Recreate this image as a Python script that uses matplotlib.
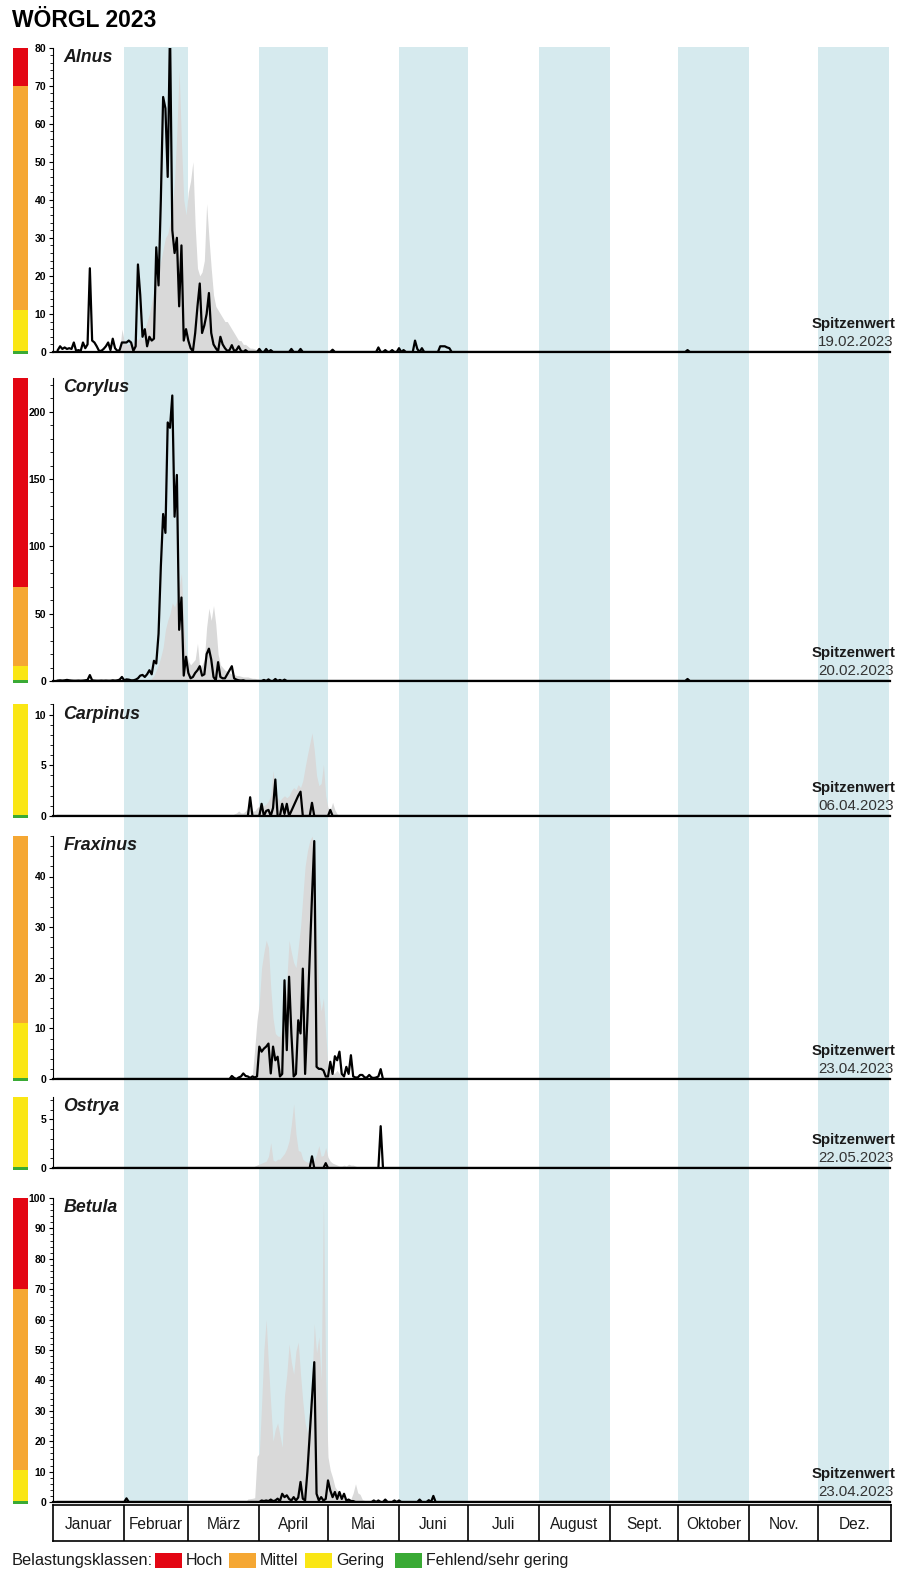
import numpy as np
import matplotlib
matplotlib.use("Agg")
import matplotlib.pyplot as plt
from matplotlib.patches import Rectangle

plt.rcParams['font.family'] = ['Liberation Sans', 'DejaVu Sans']

# ------------------------------------------------------------------ data
months = ['Januar', 'Februar', 'März', 'April', 'Mai', 'Juni', 'Juli',
          'August', 'Sept.', 'Oktober', 'Nov.', 'Dez.']
month_days = [31, 28, 31, 30, 31, 30, 31, 31, 30, 31, 30, 31]
shaded_months = [1, 3, 5, 7, 9, 11]

species = ['Alnus', 'Corylus', 'Carpinus', 'Fraxinus', 'Ostrya', 'Betula']
peak_dates = ['19.02.2023', '20.02.2023', '06.04.2023', '23.04.2023',
              '22.05.2023', '23.04.2023']
y_max = [80, 225, 11, 48, 7.3, 100]
major_step = [10, 50, 5, 10, 5, 10]
minor_step = [2, 10, 1, 2, 1, 2]

# Belastungsklassen (upper bound of each class, coloured bar at the left)
classes = {
    'Alnus':    [('gering', 11), ('mittel', 70), ('hoch', 80)],
    'Corylus':  [('gering', 11.5), ('mittel', 70), ('hoch', 225)],
    'Carpinus': [('gering', 11)],
    'Fraxinus': [('gering', 11), ('mittel', 48)],
    'Ostrya':   [('gering', 7.3)],
    'Betula':   [('gering', 10.5), ('mittel', 70), ('hoch', 100)],
}

# --- Alnus
alnus_avg_start = 29
alnus_avg = [6, 3, 2, 2, 3, 2, 4, 3, 4, 3, 6, 8, 10, 13, 16, 20, 22, 24, 27, 30,
             31, 34, 38, 45, 58, 74, 55, 40, 36, 42, 45, 50, 33, 22, 20, 21, 24, 39,
             30, 22, 15, 12, 11, 10, 9, 8, 8, 7, 6, 5, 4, 3, 3, 2, 2, 1.5, 1, 1,
             0.8, 0.5, 0.5, 0.3]
alnus_2023_start = 1
alnus_2023 = [0.5, 1.5, 0.8, 1.2, 0.8, 1.0, 0.8, 2.5, 0.3, 0.5,
              0.3, 2.5, 1.0, 2.0, 22.0, 3.0, 2.5, 1.5, 0.3, 0.3,
              0.8, 1.5, 2.5, 0.5, 3.5, 1.0, 0.3, 0.5, 2.5, 2.5,
              2.5, 3.0, 2.5, 0.3, 1.5, 23.0, 15.0, 4.0, 6.0, 1.5,
              4.0, 3.0, 3.5, 27.5, 17.5, 40.0, 67.0, 64.0, 46.0, 85.0,
              32.0, 26.0, 30.0, 12.0, 28.0, 3.0, 6.0, 3.0, 1.0, 0.2,
              5.0, 12.0, 18.0, 5.0, 7.0, 10.0, 15.5, 5.0, 2.0, 1.0,
              0.2, 4.0, 2.0, 1.0, 0.3, 0.5, 1.8, 0.3, 0.5, 1.5]
alnus_2023_late = {81: 0.3, 83: 0.5, 89: 0.8, 92: 0.8, 94: 0.5, 103: 0.8, 107: 0.8,
                   121: 0.6, 141: 1.2, 144: 0.5, 147: 0.5, 150: 1.0, 152: 0.5,
                   157: 3.0, 158: 0.8, 160: 1.0, 168: 1.5, 169: 1.5, 170: 1.5,
                   171: 1.2, 172: 1.0, 276: 0.5}

# --- Corylus
corylus_avg_start = 42
corylus_avg = [2, 4, 8, 12, 18, 25, 38, 45, 50, 58, 55, 60, 70, 80, 42, 22, 15, 12,
               14, 16, 28, 10, 12, 16, 40, 54, 45, 56, 42, 20, 12, 10, 8, 7, 6, 5,
               5, 4, 4, 3.5, 3, 3, 3, 2.5, 2, 2, 1.5, 1.5, 1, 1, 0.5]
corylus_2023_start = 1
corylus_2023 = [0.3, 0.5, 0.3, 0.5, 0.8, 0.5, 0.3, 0.2, 0.2, 0.3,
                0.2, 0.3, 0.5, 0.8, 4.4, 0.5, 0.3, 0.2, 0.2, 0.3,
                0.2, 0.3, 0.2, 0.2, 0.5, 0.3, 0.5, 1.0, 3.0, 0.5,
                1.2, 1.0, 0.5, 0.5, 1.0, 2.0, 4.0, 4.5, 3.0, 5.0,
                8.0, 5.0, 15.0, 13.0, 35.0, 85.0, 124.0, 110.0, 192.0, 188.0,
                212.0, 122.0, 153.0, 38.0, 62.0, 4.0, 18.0, 6.0, 2.0, 3.0,
                6.0, 8.0, 11.0, 4.0, 5.0, 20.0, 24.0, 16.0, 3.0, 0.5,
                14.0, 3.0, 2.0, 2.0, 5.0, 8.0, 11.0, 2.0, 1.0, 0.5,
                0.3, 0.5]
corylus_2023_late = {91: 0.8, 93: 1.2, 96: 1.5, 98: 0.8, 100: 1.0, 276: 1.5}

# --- Carpinus
carpinus_avg_start = 78
carpinus_avg = [0.2, 0.3, 0.5, 0.3, 0.3, 0.5, 0.8, 1.0, 0.5, 0.5,
                0.8, 1.0, 1.3, 1.0, 1.2, 1.5, 2.0, 4.5, 2.5, 1.8,
                1.5, 1.8, 2.0, 1.8, 2.0, 2.5, 2.8, 2.6, 3.1, 2.8,
                3.5, 4.8, 6.0, 7.1, 8.2, 6.5, 4.0, 3.0, 3.2, 5.1,
                2.0, 0.8, 0.6, 1.35, 0.6, 0.2]
carpinus_2023_start = 83
carpinus_2023 = [0, 0, 1.85, 0, 0, 0, 0, 1.2, 0, 0.5,
                 0.6, 0, 0.8, 3.6, 0, 0, 1.2, 0.2, 1.2, 0,
                 0.5, 1.0, 1.5, 2.0, 2.4, 0, 0, 0, 0, 1.3,
                 0, 0, 0, 0, 0, 0, 0, 0.6, 0]
carpinus_2023_late = {}

# --- Fraxinus
fraxinus_avg_start = 84
fraxinus_avg = [0.3, 0.5, 1, 6, 11.6, 15, 22, 25, 27.4, 26,
                18, 12, 9, 8.5, 8.4, 10, 14, 19.5, 27.4, 25,
                23, 22, 26, 30, 36, 42, 45, 47, 48, 46,
                29, 17, 13.4, 16, 9, 2.4, 1.5, 1, 1.2, 1.7,
                1, 0.5, 0.3]
fraxinus_2023_start = 76
fraxinus_2023 = [0, 0.6, 0.2, 0, 0.3, 0.5, 1.1, 0.6, 0.5, 0.2,
                 0.5, 0.3, 0.5, 6.4, 5.4, 6.0, 6.4, 7.0, 1.1, 6.4,
                 3.7, 4.4, 0.5, 1.0, 19.5, 5.7, 20.2, 9.0, 0.5, 1.0,
                 11.6, 9.0, 21.8, 1.0, 12.0, 24.0, 36.0, 47.0, 2.4, 2.0,
                 2.0, 1.7, 0.5, 0.5, 3.4, 1.0, 4.5, 3.7, 5.4, 1.0,
                 0.5, 2.4, 1.0, 4.7, 0.5, 0.3, 0.3, 0.8, 0.8, 0.3,
                 0.3, 0.8, 0.3, 0.2, 0.3, 0.5, 1.95, 0]
fraxinus_2023_late = {}

# --- Ostrya
ostrya_avg_start = 87
ostrya_avg = [0.2, 0.3, 0.4, 0.5, 0.6, 0.7, 1.2, 2.6, 0.8, 0.7,
              0.9, 0.9, 1.2, 1.5, 2.0, 2.8, 4.5, 6.6, 3.5, 1.8,
              1.7, 0.9, 0.7, 0.6, 0.5, 0.6, 0.8, 1.4, 2.3, 1.2,
              1.3, 2.1, 1.1, 0.7, 0.5, 0.4, 0.3, 0.2, 0.2, 0.3,
              0.2, 0.4, 0.3, 0.3, 0.2, 0.1]
ostrya_2023_start = 112
ostrya_2023 = [1.2]
ostrya_2023_late = {118: 0.5, 142: 4.3}

# --- Betula
betula_avg_start = 84
betula_avg = [1.0, 1.1, 1.2, 1.4, 15, 16, 32, 50, 60, 45,
              32, 20, 24, 26, 22, 18, 35, 42, 52, 46,
              42, 49.6, 52.6, 42, 33, 25.9, 22.7, 30, 40, 58.7,
              49, 54.3, 40, 99.8, 40, 14.8, 10.4, 8, 5, 3.8,
              2.5, 2.0, 1.2, 1.1, 1.0, 1.0, 3, 6, 3, 2.5,
              0.8, 0.5, 0.3]
betula_2023_start = 88
betula_2023 = [0, 0, 0.5, 0.3, 0.5, 0.3, 0.8, 0.3, 0.5, 1.1,
               0.3, 2.7, 1.6, 2.2, 1.0, 0.5, 1.6, 0.5, 1.5, 6.6,
               1.1, 0.5, 10, 22, 34, 46, 2.7, 0.5, 1.6, 0.5,
               1.0, 7.1, 3.8, 1.6, 3.3, 1.0, 3.3, 1.0, 2.7, 0.5,
               0.8, 0.3, 0.3]
betula_2023_late = {31: 1.2, 139: 0.5, 141: 0.5, 144: 0.8, 148: 0.5, 150: 0.5,
                    159: 0.8, 163: 0.6, 165: 2.0}

legend_labels = ['Hoch', 'Mittel', 'Gering', 'Fehlend/sehr gering']

# ------------------------------------------------------------------ style
W, H = 902, 1572
BLUE = '#d6eaee'
GRAY = '#d9d9d9'
CLASS_COL = {'hoch': '#e30613', 'mittel': '#f5a733', 'gering': '#fae614',
             'fehlend': '#3aaa35'}
LEG_COL = [CLASS_COL['hoch'], CLASS_COL['mittel'], CLASS_COL['gering'],
           CLASS_COL['fehlend']]

DAY_REF, PX_REF, PX_DAY = 50, 170.0, 2.29   # day <-> pixel mapping
BAND_SHIFT = -1.5
L, R = 53, 890
panel_px = [(47.5, 352), (378, 681), (704.5, 816), (836, 1079),
            (1097, 1168), (1198, 1502)]

DAYS = np.arange(1, 366)


def daily(start, values, extra):
    s = np.zeros(365)
    s[start - 1:start - 1 + len(values)] = values
    for d, v in extra.items():
        s[d - 1] = v
    return s


def rect(l, r, t, b):
    return [l / W, 1 - b / H, (r - l) / W, (b - t) / H]


def xlim_for(l, r):
    return (DAY_REF + (l - PX_REF) / PX_DAY, DAY_REF + (r - PX_REF) / PX_DAY)


avg_series = [daily(alnus_avg_start, alnus_avg, {}),
              daily(corylus_avg_start, corylus_avg, {}),
              daily(carpinus_avg_start, carpinus_avg, {}),
              daily(fraxinus_avg_start, fraxinus_avg, {}),
              daily(ostrya_avg_start, ostrya_avg, {}),
              daily(betula_avg_start, betula_avg, {})]
cur_series = [daily(alnus_2023_start, alnus_2023, alnus_2023_late),
              daily(corylus_2023_start, corylus_2023, corylus_2023_late),
              daily(carpinus_2023_start, carpinus_2023, carpinus_2023_late),
              daily(fraxinus_2023_start, fraxinus_2023, fraxinus_2023_late),
              daily(ostrya_2023_start, ostrya_2023, ostrya_2023_late),
              daily(betula_2023_start, betula_2023, betula_2023_late)]

edges = np.concatenate([[0], np.cumsum(month_days)]) + 0.5 + BAND_SHIFT

fig = plt.figure(figsize=(W / 100, H / 100), dpi=100)

# title
fig.text(12 / W, 1 - 27 / H, 'WÖRGL 2023', fontsize=16.5, fontweight='bold',
         ha='left', va='baseline')

# background month bands
bg = fig.add_axes(rect(L, R, 47, 1502))
bg.set_xlim(*xlim_for(L, R))
bg.set_ylim(0, 1)
bg.axis('off')
bg.set_zorder(0)
for i in shaded_months:
    bg.axvspan(edges[i], edges[i + 1], color=BLUE, lw=0)

for k, name in enumerate(species):
    t, b = panel_px[k]
    ym = y_max[k]
    ax = fig.add_axes(rect(L, R, t, b))
    ax.set_zorder(2)
    ax.set_facecolor('none')
    ax.set_xlim(*xlim_for(L, R))
    ax.set_ylim(0, ym)
    ax.fill_between(DAYS, 0, avg_series[k], color=GRAY, lw=0, zorder=1)
    ax.plot(DAYS, cur_series[k], color='black', lw=1.6, zorder=3)
    for s in ['top', 'right']:
        ax.spines[s].set_visible(False)
    ax.spines['left'].set_linewidth(0.8)
    ax.spines['bottom'].set_linewidth(1.6)
    ax.spines['bottom'].set_zorder(4)
    ax.set_xticks([])
    majors = np.arange(0, ym + 1e-6, major_step[k])
    minors = np.arange(0, ym + 1e-6, minor_step[k])
    ax.set_yticks(majors)
    ax.set_yticklabels([f'{v:g}' for v in majors], fontweight='bold', fontsize=7.5)
    ax.set_yticks(minors, minor=True)
    ax.tick_params(axis='y', which='major', direction='out', length=3, width=0.8, pad=2)
    ax.tick_params(axis='y', which='minor', direction='out', length=2, width=0.6)

    ax.annotate(name, xy=(0, 1), xycoords='axes fraction', xytext=(7.5, -1),
                textcoords='offset points', ha='left', va='top', fontsize=12.8,
                fontweight='bold', fontstyle='italic', color='#1a1a1a')
    ax.annotate('Spitzenwert', xy=(1, 0), xycoords='axes fraction', xytext=(3.6, 20),
                textcoords='offset points', ha='right', va='center', fontsize=10.8,
                fontweight='bold', color='#1a1a1a')
    ax.annotate(peak_dates[k], xy=(1, 0), xycoords='axes fraction', xytext=(2.5, 7),
                textcoords='offset points', ha='right', va='center', fontsize=10.8,
                color='#333333')

    # class colour bar
    cb = fig.add_axes(rect(13, 27.5, t, b))
    cb.set_xlim(0, 1)
    cb.set_ylim(0, ym)
    cb.axis('off')
    u = ym / (b - t)
    lo = 1.5 * u
    cb.bar(0.5, 3 * u, bottom=-1.5 * u, width=1, color=CLASS_COL['fehlend'],
           lw=0, clip_on=False)
    for cname, up in classes[name]:
        cb.bar(0.5, up - lo, bottom=lo, width=1, color=CLASS_COL[cname], lw=0,
               clip_on=False)
        lo = up

# month table
tb = fig.add_axes(rect(L, 891, 1505, 1541))
tb.set_xlim(*xlim_for(L, 891))
tb.set_ylim(0, 1)
tb.set_xticks([])
tb.set_yticks([])
for s in tb.spines.values():
    s.set_linewidth(1.2)
lo_edge, hi_edge = tb.get_xlim()
cell_edges = [lo_edge] + list(edges[1:-1]) + [hi_edge]
for e in edges[1:-1]:
    tb.axvline(e, color='black', lw=1.2)
for i, m in enumerate(months):
    tb.text((cell_edges[i] + cell_edges[i + 1]) / 2, 0.47, m, ha='center',
            va='center', fontsize=11.2, color='#1a1a1a')

# legend
lg = fig.add_axes([0, 0, 1, 24 / H])
lg.set_xlim(0, W)
lg.set_ylim(1572, 1548)
lg.axis('off')
lg.text(12, 1565, 'Belastungsklassen:', fontsize=11.8, ha='left', va='baseline',
        color='#1a1a1a')
box_x = [155, 229, 305, 395]
for bx, col, lab in zip(box_x, LEG_COL, legend_labels):
    lg.add_patch(Rectangle((bx, 1553), 27, 15, color=col, lw=0))
    lg.text(bx + 31, 1565, lab, fontsize=11.5, ha='left', va='baseline',
            color='#1a1a1a')

fig.savefig('out.png', dpi=100)
